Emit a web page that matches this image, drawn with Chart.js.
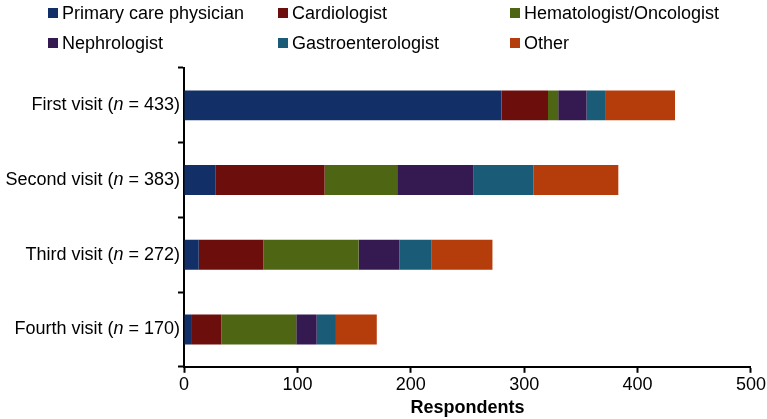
<!DOCTYPE html>
<html>
<head>
<meta charset="utf-8">
<script src="https://cdn.jsdelivr.net/npm/chart.js@4/dist/chart.umd.min.js"></script>
<style>
  body { margin: 0; background: #fff; }
  #wrap { position: relative; width: 767px; height: 419px; font-family: 'Liberation Sans', Arial, sans-serif; }
  #legend { position: absolute; left: 0; top: 0; width: 767px; height: 60px; }
  .item { position: absolute; font-size: 18px; color: #000; white-space: nowrap; line-height: 20px; }
  .item span.box { display: inline-block; width: 10px; height: 10px; margin-right: 4px; vertical-align: 1px; }
</style>
</head>
<body>
<div id="wrap">
  <canvas id="visits" width="767" height="419"></canvas>
  <div id="legend"></div>
</div>
<script>
Chart.defaults.font.family = "'Liberation Sans', Arial, sans-serif";
Chart.defaults.color = '#000';

var visits = ['First visit', 'Second visit', 'Third visit', 'Fourth visit'];
var totals = [433, 383, 272, 170];
var specialties = ['Primary care physician', 'Cardiologist', 'Hematologist/Oncologist', 'Nephrologist', 'Gastroenterologist', 'Other'];
var primaryCare = [280, 28, 13, 7];
var cardiologist = [41, 96, 57, 26];
var hematOncol = [9, 64, 84, 66];
var nephrologist = [25, 67, 36, 18];
var gastro = [17, 53, 28, 17];
var other = [61, 75, 54, 36];
var xTicks = [0, 100, 200, 300, 400, 500];
var colors = ['#132f67', '#6c0f0c', '#4e6613', '#341a50', '#1a5b78', '#b53c0b'];

var seriesData = [primaryCare, cardiologist, hematOncol, nephrologist, gastro, other];

// y labels with italic n
var visitLabels = {
    id: 'visitLabels',
    afterDraw: function (chart) {
        var ctx = chart.ctx;
        var yScale = chart.scales.y;
        var right = chart.chartArea.left - 4;
        ctx.save();
        ctx.fillStyle = '#000';
        ctx.textBaseline = 'middle';
        ctx.textAlign = 'left';
        var normal = "18px 'Liberation Sans', Arial, sans-serif";
        var italic = "italic 18px 'Liberation Sans', Arial, sans-serif";
        visits.forEach(function (v, i) {
            var parts = [[v + ' (', normal], ['n', italic], [' = ' + totals[i] + ')', normal]];
            var w = 0;
            parts.forEach(function (p) { ctx.font = p[1]; w += ctx.measureText(p[0]).width; });
            var x = right - w;
            var y = yScale.getPixelForValue(i);
            parts.forEach(function (p) {
                ctx.font = p[1];
                ctx.fillText(p[0], x, y);
                x += ctx.measureText(p[0]).width;
            });
        });
        ctx.restore();
    }
};

var ctx = document.getElementById('visits');
var myChart = new Chart(ctx, {
    type: 'bar',
    plugins: [visitLabels],
    data: {
        labels: visits,
        datasets: specialties.map(function (name, i) {
            return {
                label: name,
                data: seriesData[i],
                backgroundColor: colors[i],
                borderWidth: 0,
                categoryPercentage: 1,
                barPercentage: 0.4,
            };
        })
    },
    options: {
        indexAxis: 'y',
        responsive: false,
        animation: false,
        layout: {
            padding: { top: 68, left: 178, right: 13, bottom: 0 }
        },
        plugins: {
            legend: { display: false },
            tooltip: { enabled: false },
        },
        scales: {
            x: {
                stacked: true,
                min: 0,
                max: 500,
                afterBuildTicks: function (scale) {
                    scale.ticks = xTicks.map(function (v) { return { value: v }; });
                },
                border: { color: '#000', width: 2 },
                grid: {
                    drawOnChartArea: false,
                    color: '#000',
                    tickLength: 6,
                    tickWidth: 2,
                },
                ticks: {
                    font: { size: 18 },
                    padding: 1,
                    maxRotation: 0,
                },
                title: {
                    display: true,
                    text: 'Respondents',
                    font: { size: 18, weight: 'bold' },
                    padding: { top: 1, bottom: 0 },
                },
            },
            y: {
                stacked: true,
                border: { color: '#000', width: 2 },
                grid: {
                    drawOnChartArea: false,
                    offset: true,
                    color: '#000',
                    tickLength: 6,
                    tickWidth: 2,
                },
                ticks: { display: false },
            },
        },
    },
});

// html legend, three columns
var legendBox = document.getElementById('legend');
var colX = [48, 278, 510];
var rowY = [3, 33];
specialties.forEach(function (name, i) {
    var el = document.createElement('div');
    el.className = 'item';
    el.style.left = colX[i % 3] + 'px';
    el.style.top = rowY[Math.floor(i / 3)] + 'px';
    el.innerHTML = '<span class="box" style="background:' + colors[i] + '"></span>' + name;
    legendBox.appendChild(el);
});
</script>
</body>
</html>
